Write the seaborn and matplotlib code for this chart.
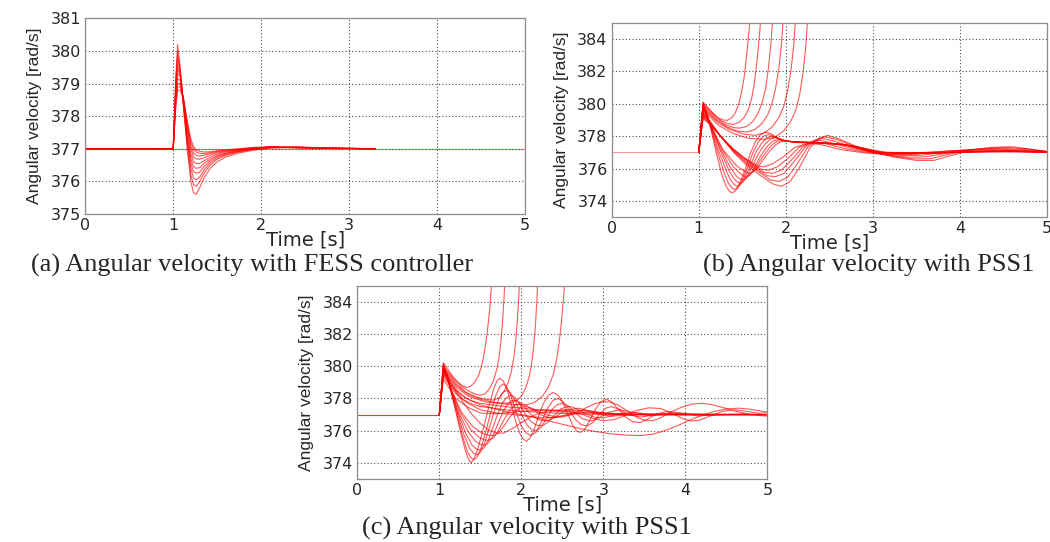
import matplotlib
matplotlib.use('Agg')
import matplotlib.pyplot as plt
import seaborn as sns
import pandas as pd

# ---- panel (a): angular velocity with FESS controller ----
t_a = [0, 1.0, 1.03, 1.05, 1.08, 1.12, 1.16, 1.2, 1.23, 1.26, 1.3, 1.35, 1.42, 1.5, 1.6, 1.75, 1.9, 2.1, 2.4, 2.8, 3.3]
w_a = [
    [377, 377, 379.2, 380.2, 379.5, 378.2, 377.0, 376.0, 375.65, 375.6, 375.8, 376.1, 376.4, 376.6, 376.75, 376.87, 376.95, 377.02, 377.04, 377.02, 377.0],
    [377, 377, 379.1, 380.0, 379.4, 378.2, 377.1, 376.2, 375.9, 375.85, 375.98, 376.25, 376.5, 376.68, 376.8, 376.9, 376.97, 377.03, 377.05, 377.02, 377.0],
    [377, 377, 379.0, 379.8, 379.35, 378.25, 377.2, 376.4, 376.1, 376.05, 376.12, 376.35, 376.57, 376.72, 376.83, 376.92, 376.98, 377.04, 377.05, 377.02, 377.0],
    [377, 377, 378.9, 379.6, 379.3, 378.3, 377.3, 376.55, 376.3, 376.25, 376.28, 376.45, 376.63, 376.76, 376.85, 376.93, 376.99, 377.05, 377.05, 377.02, 377.0],
    [377, 377, 378.8, 379.45, 379.25, 378.35, 377.4, 376.7, 376.45, 376.4, 376.42, 376.55, 376.68, 376.79, 376.87, 376.94, 377.0, 377.05, 377.05, 377.02, 377.0],
    [377, 377, 378.7, 379.3, 379.2, 378.4, 377.5, 376.85, 376.6, 376.55, 376.55, 376.63, 376.74, 376.83, 376.9, 376.95, 377.0, 377.05, 377.04, 377.02, 377.0],
    [377, 377, 378.6, 379.15, 379.1, 378.45, 377.6, 377.0, 376.75, 376.69, 376.68, 376.72, 376.8, 376.87, 376.92, 376.96, 377.01, 377.05, 377.04, 377.01, 377.0],
    [377, 377, 378.5, 379.0, 379.0, 378.5, 377.7, 377.1, 376.88, 376.8, 376.78, 376.8, 376.85, 376.9, 376.94, 376.98, 377.02, 377.05, 377.03, 377.01, 377.0],
    [377, 377, 378.4, 378.9, 378.9, 378.5, 377.8, 377.2, 377.0, 376.9, 376.86, 376.85, 376.88, 376.92, 376.96, 376.99, 377.03, 377.06, 377.03, 377.01, 377.0],
    [377, 377, 378.3, 378.8, 378.8, 378.45, 377.85, 377.3, 377.08, 376.97, 376.92, 376.9, 376.91, 376.94, 376.97, 377.0, 377.04, 377.06, 377.03, 377.01, 377.0],
]
ref_a_t = [0, 5]
ref_a_w = [377, 377]

# pre-fault steady state for (b) and (c)
pre_t = [0, 1.0]
pre_w = [377, 377]

# ---- panel (b): angular velocity with PSS1 ----
b_unstable = [
    [(1.0, 377), (1.05, 380.1), (1.1, 379.8), (1.16, 379.45), (1.22, 379.15), (1.28, 379.0), (1.33, 378.98), (1.38, 379.15), (1.42, 379.45), (1.46, 380.0), (1.49, 380.7), (1.52, 381.6), (1.55, 383.0), (1.58, 384.7), (1.6, 386)],
    [(1.0, 377), (1.05, 380.0), (1.1, 379.75), (1.18, 379.3), (1.26, 378.95), (1.33, 378.78), (1.4, 378.73), (1.46, 378.85), (1.52, 379.15), (1.57, 379.65), (1.61, 380.4), (1.64, 381.3), (1.67, 382.7), (1.7, 384.4), (1.72, 386)],
    [(1.0, 377), (1.05, 379.9), (1.1, 379.65), (1.2, 379.1), (1.3, 378.72), (1.4, 378.53), (1.47, 378.5), (1.55, 378.6), (1.62, 378.9), (1.68, 379.4), (1.73, 380.1), (1.77, 381.0), (1.8, 382.2), (1.83, 383.8), (1.86, 386)],
    [(1.0, 377), (1.05, 379.8), (1.1, 379.55), (1.2, 379.0), (1.32, 378.58), (1.44, 378.32), (1.55, 378.26), (1.64, 378.4), (1.72, 378.75), (1.79, 379.3), (1.84, 380.0), (1.88, 380.9), (1.92, 382.2), (1.95, 383.7), (1.98, 386)],
    [(1.0, 377), (1.05, 379.7), (1.1, 379.45), (1.22, 378.85), (1.36, 378.4), (1.52, 378.12), (1.65, 378.05), (1.75, 378.2), (1.84, 378.55), (1.92, 379.15), (1.98, 379.9), (2.02, 380.8), (2.06, 382.1), (2.09, 383.6), (2.12, 386)],
    [(1.0, 377), (1.05, 379.6), (1.1, 379.35), (1.22, 378.7), (1.38, 378.2), (1.56, 377.88), (1.75, 377.8), (1.88, 377.95), (1.98, 378.35), (2.06, 378.95), (2.12, 379.7), (2.16, 380.6), (2.2, 382.0), (2.23, 383.6), (2.26, 386)],
]
b_fast = [
    [(1.0, 377), (1.05, 380.1), (1.09, 379.5), (1.14, 378.4), (1.2, 377.0), (1.26, 375.7), (1.31, 374.95), (1.35, 374.6), (1.38, 374.5), (1.42, 374.6), (1.47, 375.1), (1.53, 375.9), (1.59, 376.9), (1.65, 377.65), (1.71, 378.1), (1.77, 378.25), (1.83, 378.15), (1.9, 377.9), (1.98, 377.72), (2.1, 377.65), (2.4, 377.6), (2.65, 377.5), (2.85, 377.2), (3.05, 376.98), (3.4, 376.92), (3.9, 377.0), (4.4, 377.1), (5.0, 377.0)],
    [(1.0, 377), (1.05, 380.0), (1.09, 379.45), (1.14, 378.5), (1.21, 377.1), (1.29, 375.75), (1.34, 375.1), (1.38, 374.8), (1.41, 374.7), (1.45, 374.8), (1.5, 375.3), (1.56, 376.05), (1.62, 376.95), (1.68, 377.6), (1.74, 378.0), (1.80, 378.1), (1.86, 378.0), (1.93, 377.8), (2.01, 377.68), (2.15, 377.65), (2.45, 377.58), (2.7, 377.45), (2.9, 377.15), (3.1, 376.97), (3.5, 376.93), (4.0, 377.02), (4.5, 377.1), (5.0, 377.0)],
    [(1.0, 377), (1.05, 379.9), (1.09, 379.4), (1.14, 378.55), (1.22, 377.2), (1.32, 375.8), (1.37, 375.25), (1.41, 375.0), (1.44, 374.9), (1.48, 375.0), (1.53, 375.45), (1.59, 376.15), (1.65, 376.95), (1.72, 377.55), (1.78, 377.9), (1.84, 378.0), (1.9, 377.9), (1.97, 377.75), (2.05, 377.66), (2.2, 377.63), (2.5, 377.56), (2.75, 377.4), (2.95, 377.1), (3.15, 376.96), (3.6, 376.95), (4.1, 377.04), (4.6, 377.1), (5.0, 377.0)],
    [(1.0, 377), (1.05, 379.8), (1.09, 379.35), (1.15, 378.5), (1.24, 377.2), (1.35, 375.85), (1.4, 375.4), (1.44, 375.18), (1.47, 375.1), (1.51, 375.18), (1.56, 375.55), (1.62, 376.2), (1.69, 376.95), (1.76, 377.5), (1.82, 377.8), (1.88, 377.9), (1.94, 377.82), (2.01, 377.7), (2.1, 377.64), (2.25, 377.62), (2.55, 377.54), (2.8, 377.35), (3.0, 377.05), (3.2, 376.96), (3.7, 376.96), (4.2, 377.05), (4.7, 377.08), (5.0, 377.0)],
    [(1.0, 377), (1.05, 379.7), (1.09, 379.3), (1.15, 378.5), (1.25, 377.2), (1.37, 376.0), (1.43, 375.55), (1.47, 375.37), (1.50, 375.3), (1.54, 375.37), (1.6, 375.7), (1.66, 376.3), (1.73, 376.95), (1.8, 377.45), (1.86, 377.72), (1.92, 377.8), (1.98, 377.74), (2.05, 377.66), (2.15, 377.62), (2.3, 377.6), (2.6, 377.52), (2.85, 377.3), (3.05, 377.02), (3.3, 376.96), (3.8, 376.97), (4.3, 377.05), (4.8, 377.06), (5.0, 377.0)],
    [(1.0, 377), (1.05, 379.6), (1.09, 379.25), (1.16, 378.4), (1.27, 377.15), (1.4, 376.1), (1.47, 375.72), (1.51, 375.56), (1.54, 375.5), (1.58, 375.57), (1.64, 375.9), (1.7, 376.45), (1.77, 377.0), (1.84, 377.45), (1.9, 377.68), (1.96, 377.75), (2.02, 377.7), (2.1, 377.63), (2.2, 377.6), (2.35, 377.58), (2.65, 377.5), (2.9, 377.25), (3.1, 377.0), (3.4, 376.97), (3.9, 376.98), (4.4, 377.04), (4.9, 377.04), (5.0, 377.0)],
    [(1.0, 377), (1.05, 379.5), (1.09, 379.2), (1.16, 378.4), (1.28, 377.15), (1.43, 376.2), (1.51, 375.88), (1.55, 375.75), (1.58, 375.7), (1.62, 375.77), (1.68, 376.08), (1.74, 376.55), (1.81, 377.05), (1.88, 377.45), (1.94, 377.65), (2.0, 377.7), (2.06, 377.66), (2.15, 377.6), (2.25, 377.58), (2.4, 377.55), (2.7, 377.47), (2.95, 377.2), (3.15, 377.0), (3.5, 376.98), (4.0, 377.0), (4.5, 377.03), (5.0, 377.0)],
]
b_slow = [
    [(1.0, 377), (1.05, 379.4), (1.12, 379.0), (1.25, 378.0), (1.4, 377.0), (1.55, 376.2), (1.7, 375.6), (1.85, 375.05), (1.95, 374.9), (2.05, 375.2), (2.15, 376.0), (2.28, 377.3), (2.4, 377.9), (2.48, 378.05), (2.6, 377.85), (2.8, 377.4), (3.0, 377.0), (3.25, 376.7), (3.5, 376.5), (3.7, 376.5), (3.9, 376.8), (4.1, 377.1), (4.35, 377.3), (4.6, 377.35), (4.8, 377.2), (5.0, 377.05)],
    [(1.0, 377), (1.05, 379.35), (1.12, 378.95), (1.25, 378.0), (1.4, 377.05), (1.55, 376.3), (1.7, 375.75), (1.82, 375.3), (1.92, 375.2), (2.02, 375.45), (2.12, 376.2), (2.25, 377.3), (2.37, 377.85), (2.45, 377.95), (2.58, 377.8), (2.8, 377.35), (3.0, 377.0), (3.25, 376.75), (3.45, 376.6), (3.65, 376.6), (3.85, 376.85), (4.05, 377.1), (4.3, 377.25), (4.55, 377.3), (4.8, 377.2), (5.0, 377.05)],
    [(1.0, 377), (1.05, 379.3), (1.12, 378.9), (1.25, 378.0), (1.4, 377.1), (1.55, 376.4), (1.68, 375.9), (1.79, 375.55), (1.88, 375.5), (1.98, 375.7), (2.09, 376.4), (2.22, 377.3), (2.34, 377.78), (2.42, 377.85), (2.55, 377.7), (2.78, 377.3), (3.0, 377.0), (3.2, 376.8), (3.4, 376.7), (3.6, 376.72), (3.8, 376.9), (4.0, 377.1), (4.25, 377.22), (4.5, 377.25), (4.8, 377.15), (5.0, 377.05)],
    [(1.0, 377), (1.05, 379.25), (1.12, 378.85), (1.25, 378.0), (1.4, 377.15), (1.55, 376.5), (1.66, 376.05), (1.76, 375.75), (1.85, 375.7), (1.95, 375.9), (2.06, 376.5), (2.19, 377.3), (2.31, 377.7), (2.38, 377.75), (2.5, 377.62), (2.75, 377.25), (3.0, 376.98), (3.2, 376.85), (3.38, 376.8), (3.55, 376.82), (3.75, 376.95), (3.95, 377.1), (4.2, 377.2), (4.45, 377.2), (4.75, 377.12), (5.0, 377.05)],
    [(1.0, 377), (1.05, 379.2), (1.12, 378.8), (1.25, 378.0), (1.4, 377.2), (1.52, 376.65), (1.63, 376.25), (1.72, 375.95), (1.8, 375.9), (1.9, 376.1), (2.02, 376.6), (2.15, 377.3), (2.27, 377.6), (2.33, 377.65), (2.45, 377.55), (2.7, 377.2), (2.95, 376.98), (3.15, 376.88), (3.32, 376.85), (3.5, 376.88), (3.7, 377.0), (3.9, 377.1), (4.15, 377.15), (4.4, 377.15), (4.7, 377.1), (5.0, 377.02)],
    [(1.0, 377), (1.05, 379.1), (1.12, 378.75), (1.25, 378.0), (1.38, 377.25), (1.5, 376.75), (1.6, 376.4), (1.68, 376.15), (1.75, 376.1), (1.85, 376.3), (1.98, 376.75), (2.1, 377.3), (2.22, 377.5), (2.28, 377.55), (2.4, 377.48), (2.65, 377.15), (2.9, 376.97), (3.1, 376.9), (3.28, 376.88), (3.45, 376.92), (3.65, 377.02), (3.85, 377.08), (4.1, 377.1), (4.35, 377.1), (4.65, 377.06), (5.0, 377.0)],
]

# ---- panel (c): angular velocity with PSS1 ----
c_unstable = [
    [(1.0, 377), (1.05, 380.2), (1.1, 379.85), (1.16, 379.4), (1.22, 379.05), (1.28, 378.8), (1.33, 378.68), (1.38, 378.75), (1.43, 379.0), (1.48, 379.45), (1.52, 380.1), (1.55, 380.9), (1.58, 381.9), (1.61, 383.3), (1.64, 385.2), (1.66, 386.5)],
    [(1.0, 377), (1.05, 380.0), (1.1, 379.7), (1.18, 379.2), (1.27, 378.75), (1.36, 378.45), (1.44, 378.27), (1.5, 378.2), (1.56, 378.3), (1.61, 378.6), (1.66, 379.1), (1.70, 379.8), (1.73, 380.6), (1.75, 381.5), (1.77, 382.7), (1.79, 384.3), (1.81, 386.5)],
    [(1.0, 377), (1.05, 379.9), (1.1, 379.6), (1.2, 378.95), (1.32, 378.4), (1.45, 378.1), (1.56, 377.95), (1.66, 377.9), (1.73, 378.05), (1.79, 378.45), (1.84, 379.0), (1.88, 379.7), (1.91, 380.6), (1.93, 381.5), (1.95, 382.7), (1.97, 384.4), (1.99, 386.5)],
    [(1.0, 377), (1.05, 379.8), (1.1, 379.5), (1.2, 378.85), (1.35, 378.25), (1.5, 377.95), (1.68, 377.75), (1.85, 377.7), (1.94, 377.85), (2.01, 378.2), (2.06, 378.75), (2.1, 379.45), (2.13, 380.3), (2.15, 381.2), (2.17, 382.4), (2.19, 384.1), (2.21, 386.5)],
    [(1.0, 377), (1.05, 379.7), (1.1, 379.4), (1.2, 378.75), (1.35, 378.15), (1.55, 377.8), (1.8, 377.65), (2.05, 377.6), (2.16, 377.75), (2.26, 378.15), (2.33, 378.7), (2.39, 379.5), (2.43, 380.4), (2.46, 381.4), (2.49, 382.8), (2.52, 384.6), (2.54, 386.5)],
]
c_fast = [
    [(1.0, 377), (1.05, 380.2), (1.09, 379.6), (1.14, 378.5), (1.2, 377.2), (1.26, 375.9), (1.31, 374.9), (1.35, 374.3), (1.38, 374.0), (1.42, 374.2), (1.47, 374.9), (1.52, 375.8), (1.57, 376.8), (1.62, 377.8), (1.67, 378.7), (1.71, 379.15), (1.74, 379.25), (1.78, 379.1), (1.83, 378.5), (1.88, 377.6), (1.93, 376.6), (1.98, 375.85), (2.02, 375.5), (2.06, 375.35), (2.1, 375.5), (2.15, 376.0), (2.21, 376.9), (2.27, 377.7), (2.33, 378.2), (2.39, 378.38), (2.45, 378.2), (2.51, 377.7), (2.57, 377.0), (2.63, 376.3), (2.68, 375.95), (2.72, 375.9), (2.77, 376.05), (2.83, 376.6), (2.9, 377.3), (2.97, 377.8), (3.04, 377.95), (3.1, 377.8), (3.18, 377.35), (3.27, 376.85), (3.36, 376.55), (3.45, 376.5), (3.55, 376.75), (3.65, 377.05), (3.78, 377.2), (3.95, 377.1), (4.15, 376.92), (4.4, 376.98), (4.7, 377.05), (5.0, 377.0)],
    [(1.0, 377), (1.05, 380.1), (1.09, 379.55), (1.14, 378.5), (1.21, 377.1), (1.28, 375.7), (1.34, 374.75), (1.38, 374.35), (1.42, 374.2), (1.46, 374.35), (1.51, 374.95), (1.57, 376.0), (1.63, 377.2), (1.69, 378.2), (1.74, 378.75), (1.78, 378.9), (1.82, 378.75), (1.88, 378.1), (1.94, 377.1), (2.0, 376.3), (2.06, 375.85), (2.12, 375.7), (2.18, 375.9), (2.25, 376.6), (2.32, 377.4), (2.39, 377.9), (2.45, 378.0), (2.51, 377.8), (2.58, 377.3), (2.66, 376.7), (2.73, 376.38), (2.8, 376.3), (2.87, 376.5), (2.95, 377.0), (3.03, 377.4), (3.1, 377.5), (3.18, 377.35), (3.3, 377.0), (3.45, 376.85), (3.6, 376.95), (3.8, 377.1), (4.2, 377.0), (5.0, 377.0)],
    [(1.0, 377), (1.05, 380.0), (1.09, 379.5), (1.15, 378.4), (1.22, 377.1), (1.3, 375.75), (1.37, 374.9), (1.42, 374.6), (1.46, 374.5), (1.5, 374.65), (1.55, 375.2), (1.61, 376.2), (1.67, 377.2), (1.73, 378.0), (1.78, 378.4), (1.82, 378.5), (1.87, 378.35), (1.93, 377.8), (2.0, 377.0), (2.07, 376.35), (2.13, 376.05), (2.18, 376.0), (2.24, 376.2), (2.31, 376.8), (2.38, 377.35), (2.44, 377.62), (2.5, 377.7), (2.57, 377.55), (2.65, 377.15), (2.74, 376.75), (2.85, 376.6), (2.95, 376.8), (3.07, 377.15), (3.2, 377.3), (3.35, 377.15), (3.55, 376.95), (3.8, 377.02), (5.0, 377.0)],
    [(1.0, 377), (1.05, 379.9), (1.09, 379.45), (1.15, 378.4), (1.23, 377.1), (1.32, 375.85), (1.4, 375.1), (1.45, 374.87), (1.5, 374.8), (1.55, 374.95), (1.6, 375.45), (1.66, 376.3), (1.72, 377.15), (1.78, 377.8), (1.83, 378.1), (1.87, 378.2), (1.92, 378.08), (1.98, 377.65), (2.05, 377.0), (2.12, 376.55), (2.19, 376.33), (2.25, 376.3), (2.32, 376.5), (2.4, 376.95), (2.48, 377.35), (2.55, 377.48), (2.6, 377.5), (2.68, 377.35), (2.78, 377.05), (2.9, 376.83), (3.0, 376.8), (3.12, 376.95), (3.25, 377.1), (3.4, 377.12), (3.6, 377.0), (4.0, 376.98), (5.0, 377.0)],
    [(1.0, 377), (1.05, 379.8), (1.09, 379.4), (1.15, 378.4), (1.24, 377.1), (1.35, 375.95), (1.44, 375.35), (1.5, 375.15), (1.55, 375.1), (1.6, 375.25), (1.66, 375.75), (1.72, 376.5), (1.78, 377.2), (1.84, 377.7), (1.88, 377.86), (1.92, 377.9), (1.97, 377.8), (2.04, 377.45), (2.12, 377.0), (2.2, 376.7), (2.3, 376.6), (2.38, 376.75), (2.47, 377.05), (2.57, 377.3), (2.7, 377.4), (2.82, 377.25), (2.96, 377.0), (3.1, 376.9), (3.3, 376.98), (3.6, 377.05), (5.0, 377.0)],
    [(1.0, 377), (1.05, 379.7), (1.09, 379.35), (1.16, 378.35), (1.26, 377.1), (1.38, 376.1), (1.48, 375.6), (1.55, 375.43), (1.6, 375.4), (1.66, 375.55), (1.72, 376.0), (1.78, 376.6), (1.85, 377.2), (1.91, 377.55), (1.98, 377.7), (2.05, 377.6), (2.14, 377.3), (2.24, 376.98), (2.33, 376.82), (2.4, 376.8), (2.5, 376.92), (2.62, 377.12), (2.75, 377.25), (2.88, 377.2), (3.05, 377.05), (3.3, 376.97), (3.7, 377.0), (5.0, 377.0)],
    [(1.0, 377), (1.05, 379.6), (1.09, 379.3), (1.16, 378.35), (1.27, 377.15), (1.4, 376.3), (1.52, 375.85), (1.6, 375.72), (1.66, 375.7), (1.72, 375.85), (1.79, 376.3), (1.86, 376.85), (1.93, 377.25), (1.99, 377.45), (2.05, 377.5), (2.13, 377.4), (2.23, 377.15), (2.33, 376.95), (2.42, 376.88), (2.52, 376.92), (2.65, 377.05), (2.8, 377.15), (3.0, 377.1), (3.3, 377.0), (5.0, 377.0)],
]
c_slow = [
    [(1.0, 377), (1.05, 379.6), (1.1, 379.25), (1.2, 378.4), (1.3, 377.7), (1.4, 377.0), (1.5, 376.45), (1.6, 376.05), (1.7, 375.85), (1.78, 375.85), (1.88, 376.1), (2.0, 376.5), (2.15, 376.95), (2.3, 377.2), (2.5, 377.3), (2.75, 377.25), (3.0, 377.1), (3.5, 377.0), (5.0, 377.0)],
    [(1.0, 377), (1.05, 379.5), (1.1, 379.1), (1.2, 378.5), (1.35, 377.95), (1.5, 377.6), (1.8, 377.2), (2.1, 376.9), (2.3, 376.65), (2.5, 376.4), (2.7, 376.15), (2.9, 375.95), (3.1, 375.8), (3.3, 375.72), (3.45, 375.7), (3.6, 375.78), (3.75, 376.0), (3.9, 376.3), (4.05, 376.65), (4.2, 376.95), (4.35, 377.2), (4.5, 377.35), (4.65, 377.4), (4.8, 377.33), (5.0, 377.15)],
    [(1.0, 377), (1.05, 379.4), (1.1, 379.0), (1.2, 378.3), (1.35, 377.7), (1.5, 377.3), (1.7, 377.1), (1.9, 377.0), (2.1, 376.88), (2.3, 376.8), (2.5, 376.85), (2.65, 377.05), (2.8, 377.45), (2.92, 377.72), (3.0, 377.8), (3.08, 377.78), (3.18, 377.6), (3.3, 377.2), (3.42, 376.8), (3.52, 376.62), (3.6, 376.62), (3.7, 376.8), (3.82, 377.15), (3.95, 377.45), (4.08, 377.65), (4.2, 377.7), (4.32, 377.62), (4.45, 377.45), (4.6, 377.22), (4.8, 377.0), (5.0, 376.9)],
    [(1.0, 377), (1.05, 379.8), (1.1, 379.35), (1.15, 378.95), (1.22, 378.5), (1.3, 378.1), (1.4, 377.85), (1.5, 377.7), (1.65, 377.6), (1.8, 377.5), (2.0, 377.4), (2.2, 377.3), (2.4, 377.22), (2.6, 377.15), (2.8, 377.1), (3.0, 377.05), (3.5, 377.02), (5.0, 377.0)],
    [(1.0, 377), (1.05, 379.9), (1.1, 379.35), (1.15, 378.85), (1.22, 378.35), (1.3, 377.9), (1.4, 377.65), (1.5, 377.5), (1.65, 377.4), (1.8, 377.3), (2.0, 377.22), (2.2, 377.15), (2.5, 377.08), (3.0, 377.0), (5.0, 377.0)],
    [(1.0, 377), (1.05, 379.2), (1.1, 378.8), (1.2, 378.0), (1.35, 377.45), (1.5, 377.1), (1.7, 377.05), (2.0, 377.2), (2.3, 377.3), (2.55, 377.25), (2.75, 377.0), (2.88, 376.75), (3.0, 376.62), (3.12, 376.68), (3.25, 376.9), (3.4, 377.25), (3.55, 377.42), (3.7, 377.38), (3.85, 377.05), (3.97, 376.75), (4.07, 376.6), (4.17, 376.65), (4.3, 376.9), (4.45, 377.2), (4.6, 377.3), (4.75, 377.2), (4.9, 377.08), (5.0, 377.12)],
]

captions = ['(a) Angular velocity with FESS controller',
            '(b) Angular velocity with PSS1',
            '(c) Angular velocity with PSS1']


def long_form(curves):
    rows = []
    for k, pts in enumerate(curves):
        for t, w in pts:
            rows.append((k, t, w))
    return pd.DataFrame(rows, columns=['curve', 't', 'w'])


def style_axes(ax, ylim, yticks):
    ax.set_xlim(0, 5)
    ax.set_ylim(*ylim)
    ax.set_xticks(range(6))
    ax.set_yticks(yticks)
    ax.grid(True, color='0.3', linestyle=(0, (1, 2)), linewidth=0.8)
    ax.set_axisbelow(True)
    for s in ax.spines.values():
        s.set_color('0.55')
        s.set_linewidth(0.9)
    ax.tick_params(direction='in', length=3, color='0.4', pad=3)
    for lab in ax.get_xticklabels() + ax.get_yticklabels():
        lab.set_fontfamily('DejaVu Sans')
        lab.set_fontsize(11.5)
    ax.set_xlabel('Time [s]', fontsize=14, labelpad=-2, family='DejaVu Sans')
    ax.set_ylabel('Angular velocity [rad/s]', fontsize=12.5, labelpad=6,
                  family=['Liberation Sans', 'DejaVu Sans'])


sns.set_style('white')
plt.rcParams['font.family'] = ['Liberation Sans', 'DejaVu Sans']

fig = plt.figure(figsize=(10.5, 5.42), dpi=100)
ax_a = fig.add_axes([0.0812, 0.6052, 0.4188, 0.361])
ax_b = fig.add_axes([0.5826, 0.5996, 0.4145, 0.358])
ax_c = fig.add_axes([0.3403, 0.1162, 0.3905, 0.3566])

line_kw = dict(units='curve', estimator=None, sort=False, color='red',
               linewidth=0.8, alpha=0.65, legend=False)

# (a)
df_a = pd.DataFrame([(k, t, w) for k, ws in enumerate(w_a) for t, w in zip(t_a, ws)],
                    columns=['curve', 't', 'w'])
sns.lineplot(x=ref_a_t, y=ref_a_w, color='red', linewidth=0.8, alpha=0.5, ax=ax_a)
sns.lineplot(data=df_a, x='t', y='w', ax=ax_a, **line_kw)
style_axes(ax_a, (375, 381), range(375, 382))

# (b)
df_b = long_form(b_unstable + b_fast + b_slow)
sns.lineplot(x=pre_t, y=pre_w, color='red', linewidth=0.8, alpha=0.4, ax=ax_b)
sns.lineplot(data=df_b, x='t', y='w', ax=ax_b, **line_kw)
style_axes(ax_b, (373, 385), range(374, 385, 2))

# (c)
df_c = long_form(c_unstable + c_fast + c_slow)
sns.lineplot(x=pre_t, y=pre_w, color='red', linewidth=0.8, alpha=0.8, ax=ax_c)
sns.lineplot(data=df_c, x='t', y='w', ax=ax_c, **line_kw)
style_axes(ax_c, (373, 385), range(374, 385, 2))

cap_kw = dict(fontsize=19, family=['Liberation Serif', 'DejaVu Serif'], ha='center', va='center')
fig.text(0.2405, 0.511, captions[0], **cap_kw)
fig.text(0.827, 0.511, captions[1], **cap_kw)
fig.text(0.502, 0.0258, captions[2], **cap_kw)

fig.savefig('out.png', dpi=100)
